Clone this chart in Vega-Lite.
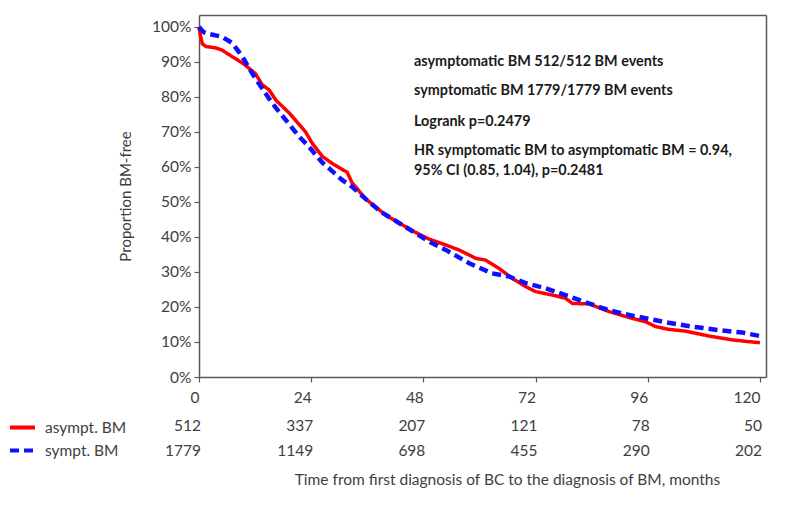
{
  "$schema": "https://vega.github.io/schema/vega-lite/v6.json",
  "background": "white",
  "padding": {"left": 8, "top": 15, "right": 0, "bottom": 0},
  "spacing": 7,
  "config": {
    "font": "Lato",
    "view": {"stroke": null},
    "axis": {
      "grid": false,
      "domainColor": "#595959",
      "domainWidth": 1.5,
      "tickColor": "#595959",
      "tickWidth": 1.2,
      "labelColor": "#404040",
      "titleColor": "#404040",
      "titleFontWeight": "normal",
      "labelFontSize": 15.5,
      "titleFontSize": 15,
      "labelOverlap": false
    }
  },
  "vconcat": [
    {
      "width": 567,
      "height": 362,
      "resolve": {"axis": {"x": "independent", "y": "independent"}},
      "data": {
        "values": [
          {"month": 0, "p": 1.0, "group": "asympt. BM"},
          {"month": 0.3, "p": 0.975, "group": "asympt. BM"},
          {"month": 0.7, "p": 0.952, "group": "asympt. BM"},
          {"month": 1.5, "p": 0.944, "group": "asympt. BM"},
          {"month": 3.6, "p": 0.94, "group": "asympt. BM"},
          {"month": 4.9, "p": 0.934, "group": "asympt. BM"},
          {"month": 7.1, "p": 0.915, "group": "asympt. BM"},
          {"month": 9.3, "p": 0.897, "group": "asympt. BM"},
          {"month": 10.7, "p": 0.882, "group": "asympt. BM"},
          {"month": 12.1, "p": 0.866, "group": "asympt. BM"},
          {"month": 13.5, "p": 0.835, "group": "asympt. BM"},
          {"month": 15.0, "p": 0.82, "group": "asympt. BM"},
          {"month": 16.5, "p": 0.79, "group": "asympt. BM"},
          {"month": 19.3, "p": 0.754, "group": "asympt. BM"},
          {"month": 21.4, "p": 0.722, "group": "asympt. BM"},
          {"month": 22.8, "p": 0.7, "group": "asympt. BM"},
          {"month": 24.2, "p": 0.668, "group": "asympt. BM"},
          {"month": 26.4, "p": 0.63, "group": "asympt. BM"},
          {"month": 28.5, "p": 0.61, "group": "asympt. BM"},
          {"month": 30.6, "p": 0.593, "group": "asympt. BM"},
          {"month": 31.7, "p": 0.585, "group": "asympt. BM"},
          {"month": 32.7, "p": 0.556, "group": "asympt. BM"},
          {"month": 35.7, "p": 0.508, "group": "asympt. BM"},
          {"month": 39.9, "p": 0.463, "group": "asympt. BM"},
          {"month": 42.8, "p": 0.44, "group": "asympt. BM"},
          {"month": 45.6, "p": 0.418, "group": "asympt. BM"},
          {"month": 49.2, "p": 0.394, "group": "asympt. BM"},
          {"month": 52.8, "p": 0.377, "group": "asympt. BM"},
          {"month": 55.6, "p": 0.363, "group": "asympt. BM"},
          {"month": 59.2, "p": 0.339, "group": "asympt. BM"},
          {"month": 61.3, "p": 0.334, "group": "asympt. BM"},
          {"month": 64.2, "p": 0.31, "group": "asympt. BM"},
          {"month": 67.0, "p": 0.282, "group": "asympt. BM"},
          {"month": 69.9, "p": 0.258, "group": "asympt. BM"},
          {"month": 72.0, "p": 0.244, "group": "asympt. BM"},
          {"month": 75.6, "p": 0.234, "group": "asympt. BM"},
          {"month": 78.4, "p": 0.225, "group": "asympt. BM"},
          {"month": 79.9, "p": 0.21, "group": "asympt. BM"},
          {"month": 83.4, "p": 0.209, "group": "asympt. BM"},
          {"month": 87.7, "p": 0.187, "group": "asympt. BM"},
          {"month": 92.0, "p": 0.17, "group": "asympt. BM"},
          {"month": 95.5, "p": 0.158, "group": "asympt. BM"},
          {"month": 97.7, "p": 0.144, "group": "asympt. BM"},
          {"month": 100.5, "p": 0.136, "group": "asympt. BM"},
          {"month": 104.1, "p": 0.131, "group": "asympt. BM"},
          {"month": 109.1, "p": 0.117, "group": "asympt. BM"},
          {"month": 114.1, "p": 0.106, "group": "asympt. BM"},
          {"month": 117.6, "p": 0.101, "group": "asympt. BM"},
          {"month": 120.0, "p": 0.098, "group": "asympt. BM"},
          {"month": 0, "p": 1.0, "group": "sympt. BM"},
          {"month": 1.0, "p": 0.985, "group": "sympt. BM"},
          {"month": 2.1, "p": 0.98, "group": "sympt. BM"},
          {"month": 4.9, "p": 0.972, "group": "sympt. BM"},
          {"month": 7.1, "p": 0.954, "group": "sympt. BM"},
          {"month": 9.3, "p": 0.915, "group": "sympt. BM"},
          {"month": 10.7, "p": 0.882, "group": "sympt. BM"},
          {"month": 12.1, "p": 0.852, "group": "sympt. BM"},
          {"month": 13.5, "p": 0.825, "group": "sympt. BM"},
          {"month": 15.0, "p": 0.795, "group": "sympt. BM"},
          {"month": 16.5, "p": 0.768, "group": "sympt. BM"},
          {"month": 19.3, "p": 0.722, "group": "sympt. BM"},
          {"month": 21.4, "p": 0.687, "group": "sympt. BM"},
          {"month": 23.5, "p": 0.658, "group": "sympt. BM"},
          {"month": 26.4, "p": 0.612, "group": "sympt. BM"},
          {"month": 28.5, "p": 0.588, "group": "sympt. BM"},
          {"month": 30.6, "p": 0.563, "group": "sympt. BM"},
          {"month": 32.7, "p": 0.544, "group": "sympt. BM"},
          {"month": 35.7, "p": 0.508, "group": "sympt. BM"},
          {"month": 39.1, "p": 0.47, "group": "sympt. BM"},
          {"month": 42.8, "p": 0.44, "group": "sympt. BM"},
          {"month": 49.2, "p": 0.387, "group": "sympt. BM"},
          {"month": 52.8, "p": 0.363, "group": "sympt. BM"},
          {"month": 57.8, "p": 0.325, "group": "sympt. BM"},
          {"month": 62.7, "p": 0.296, "group": "sympt. BM"},
          {"month": 66.3, "p": 0.287, "group": "sympt. BM"},
          {"month": 69.9, "p": 0.268, "group": "sympt. BM"},
          {"month": 74.2, "p": 0.253, "group": "sympt. BM"},
          {"month": 78.4, "p": 0.234, "group": "sympt. BM"},
          {"month": 81.3, "p": 0.22, "group": "sympt. BM"},
          {"month": 83.4, "p": 0.21, "group": "sympt. BM"},
          {"month": 87.7, "p": 0.191, "group": "sympt. BM"},
          {"month": 92.0, "p": 0.177, "group": "sympt. BM"},
          {"month": 95.5, "p": 0.168, "group": "sympt. BM"},
          {"month": 100.5, "p": 0.155, "group": "sympt. BM"},
          {"month": 105.5, "p": 0.144, "group": "sympt. BM"},
          {"month": 111.2, "p": 0.134, "group": "sympt. BM"},
          {"month": 116.2, "p": 0.127, "group": "sympt. BM"},
          {"month": 120.0, "p": 0.117, "group": "sympt. BM"}
        ]
      },
      "layer": [
        {
          "mark": {"type": "line"},
          "encoding": {
            "x": {
              "field": "month",
              "type": "quantitative",
              "scale": {"domain": [0, 121.3], "nice": false, "zero": false},
              "axis": {
                "orient": "bottom",
                "title": null,
                "values": [0, 24, 48, 72, 96, 120],
                "labelAlign": "right",
                "labelPadding": 8,
                "labelFlush": false,
                "tickSize": 5
              }
            },
            "y": {
              "field": "p",
              "type": "quantitative",
              "scale": {"domain": [0, 1.034], "nice": false},
              "axis": {
                "orient": "left",
                "title": "Proportion BM-free",
                "values": [0, 0.1, 0.2, 0.3, 0.4, 0.5, 0.6, 0.7, 0.8, 0.9, 1],
                "format": ".0%",
                "tickSize": 5,
                "labelPadding": 3,
                "titlePadding": 18
              }
            },
            "color": {
              "field": "group",
              "type": "nominal",
              "scale": {"domain": ["asympt. BM", "sympt. BM"], "range": ["#ff0000", "#1010ff"]},
              "legend": null
            },
            "strokeDash": {
              "field": "group",
              "type": "nominal",
              "scale": {"domain": ["asympt. BM", "sympt. BM"], "range": [[1, 0], [9, 5]]},
              "legend": null
            },
            "strokeWidth": {
              "field": "group",
              "type": "nominal",
              "scale": {"domain": ["asympt. BM", "sympt. BM"], "range": [3.5, 4.5]},
              "legend": null
            }
          }
        },
        {
          "data": {"values": [{"note": "asymptomatic BM  512/512 BM events"}]},
          "mark": {"type": "text", "align": "left", "baseline": "middle", "fontWeight": "bold", "fontSize": 14.4, "color": "#1a1a1a"},
          "encoding": {
            "x": {
              "datum": 46,
              "type": "quantitative",
              "axis": {"orient": "top", "labels": false, "ticks": false, "title": null}
            },
            "y": {
              "datum": 0.9,
              "type": "quantitative",
              "axis": {"orient": "right", "labels": false, "ticks": false, "title": null}
            },
            "text": {"field": "note"}
          }
        },
        {
          "data": {"values": [{"note": "symptomatic BM  1779/1779 BM events"}]},
          "mark": {"type": "text", "align": "left", "baseline": "middle", "fontWeight": "bold", "fontSize": 14.4, "color": "#1a1a1a"},
          "encoding": {
            "x": {"datum": 46, "type": "quantitative", "axis": null},
            "y": {"datum": 0.818, "type": "quantitative", "axis": null},
            "text": {"field": "note"}
          }
        },
        {
          "data": {"values": [{"note": "Logrank p=0.2479"}]},
          "mark": {"type": "text", "align": "left", "baseline": "middle", "fontWeight": "bold", "fontSize": 14.4, "color": "#1a1a1a"},
          "encoding": {
            "x": {"datum": 46, "type": "quantitative", "axis": null},
            "y": {"datum": 0.728, "type": "quantitative", "axis": null},
            "text": {"field": "note"}
          }
        },
        {
          "data": {"values": [{"note": ["HR symptomatic BM to asymptomatic BM = 0.94,", "95% CI (0.85, 1.04),  p=0.2481"]}]},
          "mark": {"type": "text", "align": "left", "baseline": "middle", "fontWeight": "bold", "fontSize": 14.4, "lineHeight": 20, "color": "#1a1a1a"},
          "encoding": {
            "x": {"datum": 46, "type": "quantitative", "axis": null},
            "y": {"datum": 0.645, "type": "quantitative", "axis": null},
            "text": {"field": "note"}
          }
        }
      ]
    },
    {
      "width": 567,
      "height": 50,
      "data": {
        "values": [
          {"month": 0, "group": "asympt. BM", "n": 512},
          {"month": 24, "group": "asympt. BM", "n": 337},
          {"month": 48, "group": "asympt. BM", "n": 207},
          {"month": 72, "group": "asympt. BM", "n": 121},
          {"month": 96, "group": "asympt. BM", "n": 78},
          {"month": 120, "group": "asympt. BM", "n": 50},
          {"month": 0, "group": "sympt. BM", "n": 1779},
          {"month": 24, "group": "sympt. BM", "n": 1149},
          {"month": 48, "group": "sympt. BM", "n": 698},
          {"month": 72, "group": "sympt. BM", "n": 455},
          {"month": 96, "group": "sympt. BM", "n": 290},
          {"month": 120, "group": "sympt. BM", "n": 202}
        ]
      },
      "layer": [
        {
          "mark": {"type": "text", "align": "right", "baseline": "middle", "dx": 2, "fontSize": 15.5, "color": "#404040"},
          "encoding": {
            "x": {
              "field": "month",
              "type": "quantitative",
              "scale": {"domain": [0, 121.3], "nice": false, "zero": false},
              "axis": {
                "title": "Time from first diagnosis of BC to the diagnosis of BM, months",
                "titleFontSize": 15.5,
                "labels": false,
                "ticks": false,
                "domain": false,
                "titleX": 308,
                "titlePadding": 9
              }
            },
            "y": {
              "field": "group",
              "type": "nominal",
              "scale": {"domain": ["asympt. BM", "sympt. BM"]},
              "axis": null
            },
            "text": {"field": "n"}
          }
        },
        {
          "transform": [{"filter": "false"}],
          "mark": {"type": "line"},
          "encoding": {
            "x": {"field": "month", "type": "quantitative"},
            "y": {"field": "group", "type": "nominal"},
            "color": {
              "field": "group",
              "type": "nominal",
              "scale": {"domain": ["asympt. BM", "sympt. BM"], "range": ["#ff0000", "#1010ff"]},
              "legend": {
                "orient": "left",
                "title": null,
                "labelFontSize": 15.5,
                "labelColor": "#404040",
                "symbolSize": 625,
                "symbolStrokeWidth": 4,
                "labelOffset": 8,
                "rowPadding": 0,
                "padding": 0,
                "offset": 72
              }
            },
            "strokeDash": {
              "field": "group",
              "type": "nominal",
              "scale": {"domain": ["asympt. BM", "sympt. BM"], "range": [[1, 0], [9, 5]]},
              "legend": {
                "orient": "left",
                "title": null,
                "labelFontSize": 15.5,
                "labelColor": "#404040",
                "symbolSize": 625,
                "symbolStrokeWidth": 4,
                "labelOffset": 8,
                "rowPadding": 0,
                "padding": 0,
                "offset": 72
              }
            }
          }
        }
      ]
    }
  ],
  "resolve": {
    "scale": {"x": "independent", "color": "independent", "strokeDash": "independent", "strokeWidth": "independent"},
    "legend": {"color": "independent", "strokeDash": "independent"}
  }
}
